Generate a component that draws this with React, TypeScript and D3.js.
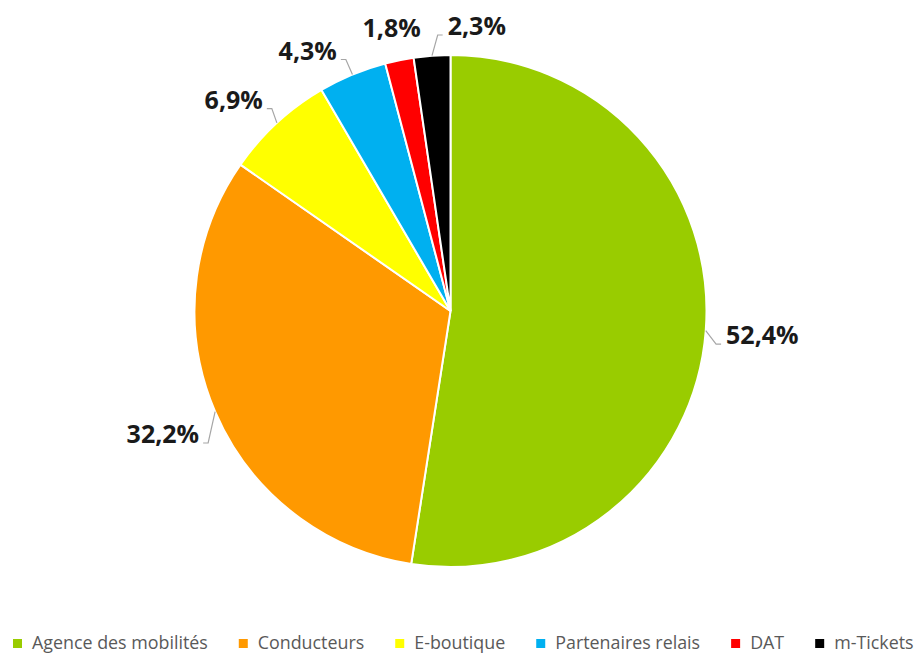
import React, { useEffect, useRef } from 'react';
import * as d3 from 'd3';

const categories = [
  "Agence des mobilités",
  "Conducteurs",
  "E-boutique",
  "Partenaires relais",
  "DAT",
  "m-Tickets",
];
const shares = [52.4, 32.2, 6.9, 4.3, 1.8, 2.3];
const colors = ["#99cc00", "#ff9900", "#ffff00", "#00b0f0", "#ff0000", "#000000"];

const W = 915;
const H = 653;

const fmt = (v: number) => `${v.toFixed(1).replace(".", ",")}%`;

const App: React.FC = () => {
  const svgRef = useRef<SVGSVGElement>(null);

  useEffect(() => {
    if (!svgRef.current) return;
    document.body.style.margin = "0";

    const svg = d3.select(svgRef.current);
    svg.selectAll("*").remove();

    const cx = 450.5;
    const cy = 311;
    const R = 256;

    const pie = d3.pie<number>().sort(null).value(d => d);
    const arcs = pie(shares);
    const arc = d3.arc<d3.PieArcDatum<number>>().innerRadius(0).outerRadius(R);

    const g = svg.append("g").attr("transform", `translate(${cx},${cy})`);

    g.selectAll("path.slice")
      .data(arcs)
      .enter().append("path")
      .attr("class", "slice")
      .attr("d", arc)
      .attr("fill", (d, i) => colors[i])
      .attr("stroke", "#ffffff")
      .attr("stroke-width", 2);

    // Labels: measure first, then place just outside the rim
    const labelG = g.append("g");
    const texts = labelG.selectAll("text")
      .data(arcs)
      .enter().append("text")
      .attr("text-anchor", "middle")
      .attr("dy", "0.36em")
      .style("font-family", "'Open Sans', sans-serif")
      .style("font-weight", "700")
      .style("font-size", "25px")
      .style("fill", "#1a1a1a")
      .text(d => fmt(d.data));

    const widths: number[] = [];
    texts.each(function () {
      widths.push((this as SVGTextElement).getComputedTextLength());
    });
    const hh = 9;
    const gap = 20;

    const labels = arcs.map((d, i) => {
      const mid = (d.startAngle + d.endAngle) / 2;
      const a = mid > Math.PI ? mid - 2 * Math.PI : mid;
      return { i, mid: a, a, w: widths[i] };
    });

    // keep a minimum angular spacing between neighbouring labels (pool adjacent violators)
    const minSep = (17 * Math.PI) / 180;
    const order = [...labels].sort((p, q) => p.a - q.a);
    const blocks: { sum: number; n: number; start: number }[] = [];
    order.forEach((l, k) => {
      blocks.push({ sum: l.a - k * minSep, n: 1, start: k });
      while (blocks.length > 1) {
        const b = blocks[blocks.length - 1], p = blocks[blocks.length - 2];
        if (p.sum / p.n <= b.sum / b.n) break;
        p.sum += b.sum; p.n += b.n;
        blocks.pop();
      }
    });
    blocks.forEach(b => {
      for (let k = b.start; k < b.start + b.n; k++) order[k].a = b.sum / b.n + k * minSep;
    });

    // push the label box out until its nearest point sits `gap` px beyond the rim
    const centerOf = (l: { a: number; w: number }) => {
      const s = Math.sin(l.a), c = Math.cos(l.a);
      const near = (d: number) => {
        const x = s * d, y = -c * d;
        const nx = Math.max(x - l.w / 2, Math.min(x + l.w / 2, 0));
        const ny = Math.max(y - hh, Math.min(y + hh, 0));
        return Math.hypot(nx, ny);
      };
      let lo = R, hi = R + 250;
      for (let k = 0; k < 40; k++) {
        const m = (lo + hi) / 2;
        if (near(m) < R + gap) lo = m; else hi = m;
      }
      return [s * lo, -c * lo];
    };

    const pos = labels.map(l => centerOf(l));
    texts.attr("x", (d, i) => pos[i][0]).attr("y", (d, i) => pos[i][1]);

    // leader lines (to the baseline corner facing the slice)
    labels.forEach((l, i) => {
      const moved = Math.abs(l.a - l.mid) > (2 * Math.PI) / 180;
      const side = Math.abs(Math.sin(l.mid)) > 0.7;
      if (!moved && !side) return;
      const ex = Math.sin(l.mid) * R;
      const ey = -Math.cos(l.mid) * R;
      const [lx, ly] = pos[i];
      const toRight = lx < ex;
      const tx = toRight ? lx + l.w / 2 + 4 : lx - l.w / 2 - 5;
      const ty = ly + hh;
      const stub = toRight ? tx + 5 : tx - 5;
      labelG.append("path")
        .attr("d", d3.line()([[tx, ty], [stub, ty], [ex, ey]]))
        .attr("fill", "none")
        .attr("stroke", "#a6a6a6")
        .attr("stroke-width", 1.2);
    });

    // Legend
    const legend = svg.append("g");
    const items = legend.selectAll("g")
      .data(categories)
      .enter().append("g");
    const ltexts = items.append("text")
      .style("font-family", "'Open Sans', sans-serif")
      .style("font-size", "16px")
      .style("fill", "#595959")
      .text(d => d);

    let sum = 0;
    ltexts.each(function () { sum += (this as SVGTextElement).getComputedTextLength(); });
    const sw = 9, sg = 10, itemGap = 31;
    const avail = (W - 14) - categories.length * (sw + sg) - (categories.length - 1) * itemGap;
    const fs = 16 * avail / sum;
    ltexts.style("font-size", `${fs}px`);

    let x = 13;
    items.each(function (d, i) {
      const it = d3.select(this);
      const t = it.select<SVGTextElement>("text");
      it.append("rect")
        .attr("x", x)
        .attr("y", 639)
        .attr("width", sw)
        .attr("height", sw)
        .attr("fill", colors[i]);
      t.attr("x", x + sw + sg).attr("y", 649);
      x += sw + sg + t.node()!.getComputedTextLength() + itemGap;
    });
  }, []);

  return (
    <svg ref={svgRef} width={W} height={H} style={{ display: "block", background: "#ffffff" }} />
  );
};

export default App;
